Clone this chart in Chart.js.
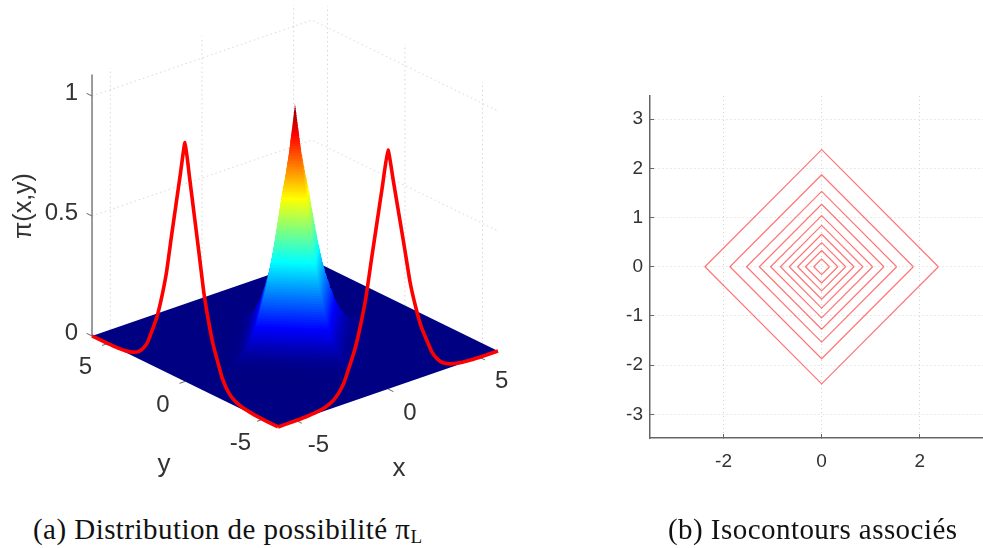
<!DOCTYPE html>
<html>
<head>
<meta charset="utf-8">
<style>
html, body { margin: 0; padding: 0; background: #fff; overflow: hidden; }
#page { position: relative; width: 983px; height: 548px; }
canvas { position: absolute; top: 0; }
#surface { left: 0; }
#contours { left: 560px; }
.caption { position: absolute; top: 511px; font-family: "Liberation Serif", serif; font-size: 29px; color: #111; white-space: nowrap; line-height: 36px; letter-spacing: 0.45px; }
.caption sub { font-size: 19px; line-height: 0; vertical-align: -4px; }
#captionA { left: 33px; }
#captionB { left: 668px; }
</style>
<script src="https://cdn.jsdelivr.net/npm/chart.js@4/dist/chart.umd.js"></script>
</head>
<body>
<div id="page">
  <canvas id="surface" width="540" height="500"></canvas>
  <canvas id="contours" width="423" height="548"></canvas>
  <div class="caption" id="captionA">(a) Distribution de possibilité π<sub>L</sub></div>
  <div class="caption" id="captionB">(b) Isocontours associés</div>
</div>
<script>
/* global Chart */

// heights of the surface, top to bottom, and the |x|+|y| where it has that height
const surfaceLevels = [
    1, 0.99, 0.98, 0.97, 0.96, 0.95, 0.94, 0.93, 0.92, 0.91,
    0.90, 0.89, 0.88, 0.87, 0.86, 0.85, 0.84, 0.83, 0.82, 0.81,
    0.80, 0.79, 0.78, 0.77, 0.76, 0.75, 0.74, 0.73, 0.72, 0.71,
    0.70, 0.69, 0.68, 0.67, 0.66, 0.65, 0.64, 0.63, 0.62, 0.61,
    0.60, 0.59, 0.58, 0.57, 0.56, 0.55, 0.54, 0.53, 0.52, 0.51,
    0.50, 0.49, 0.48, 0.47, 0.46, 0.45, 0.44, 0.43, 0.42, 0.41,
    0.40, 0.39, 0.38, 0.37, 0.36, 0.35, 0.34, 0.33, 0.32, 0.31,
    0.30, 0.29, 0.28, 0.27, 0.26, 0.25, 0.24, 0.23, 0.22, 0.21,
    0.20, 0.19, 0.18, 0.17, 0.16, 0.15, 0.14, 0.13, 0.12, 0.11,
    0.10, 0.09, 0.08, 0.07, 0.06, 0.05, 0.04, 0.03, 0.02, 0.01,
    0.004,
];
const surfaceRadii = [
    0, 0.016, 0.03, 0.05, 0.065, 0.08, 0.095, 0.11, 0.13, 0.145,
    0.16, 0.18, 0.195, 0.215, 0.23, 0.25, 0.265, 0.28, 0.30, 0.315,
    0.33, 0.35, 0.375, 0.395, 0.42, 0.44, 0.46, 0.485, 0.505, 0.53,
    0.55, 0.575, 0.60, 0.63, 0.655, 0.68, 0.705, 0.73, 0.755, 0.78,
    0.80, 0.82, 0.84, 0.86, 0.88, 0.90, 0.92, 0.945, 0.965, 0.99,
    1.01, 1.03, 1.055, 1.075, 1.10, 1.12, 1.145, 1.17, 1.19, 1.215,
    1.24, 1.265, 1.29, 1.32, 1.345, 1.37, 1.40, 1.43, 1.455, 1.48,
    1.51, 1.54, 1.57, 1.605, 1.64, 1.67, 1.71, 1.75, 1.79, 1.83,
    1.87, 1.91, 1.95, 2.0, 2.04, 2.08, 2.13, 2.18, 2.23, 2.285,
    2.34, 2.41, 2.49, 2.56, 2.64, 2.72, 2.85, 3.0, 3.22, 3.65,
    4.2,
];

// red profile on the front walls, from the peak outwards
const profileOffsets = [0, 0.3, 0.6, 0.9, 1.2, 1.5, 1.8, 2.1, 2.4, 2.7, 3.0, 3.4, 3.9, 4.5, 5.2, 6];
const profileHeights = [0.995, 0.855, 0.71, 0.565, 0.415, 0.305, 0.215, 0.15, 0.09, 0.053, 0.03, 0.015, 0.006, 0.002, 0.0005, 0];

const axisLimit = 6;
const axisTicks = [-5, 0, 5];
const heightTicks = [0, 0.5, 1];
const heightTop = 1.09;

const contourRadii = [2.38, 1.87, 1.53, 1.27, 1.04, 0.84, 0.66, 0.49, 0.33, 0.16];
const contourXTicks = [-2, 0, 2];
const contourYTicks = [-3, -2, -1, 0, 1, 2, 3];

// orthographic view of the 3d box, in px of the left canvas
const view = { cx: 295, cy: 343.5, xdx: 18.33, xdy: -6.33, ydx: -15.5, ydy: -7.58, zdy: -240 };

function project(x, y, z) {
    return {
        x: view.cx + x * view.xdx + y * view.ydx,
        y: view.cy + x * view.xdy + y * view.ydy + z * view.zdy,
    };
}

function jet(v) {
    const c = t => Math.round(255 * Math.max(0, Math.min(1, 1.5 - Math.abs(4 * v - t))));
    return `rgb(${c(3)},${c(2)},${c(1)})`;
}

function line(points, color, width, dash) {
    return {
        data: points,
        showLine: true,
        pointRadius: 0,
        borderColor: color,
        borderWidth: width,
        borderDash: dash || [],
        borderJoinStyle: 'round',
        clip: false,
    };
}

function filled(points, color) {
    return {
        data: points,
        showLine: true,
        pointRadius: 0,
        borderWidth: 0,
        backgroundColor: color,
        fill: 'shape',
        clip: false,
    };
}

// the band of the surface between a lower and an upper level, seen from the front
function band(lowZ, lowR, highZ, highR) {
    return [
        project(-lowR, 0, lowZ),
        project(0, -lowR, lowZ),
        project(lowR, 0, lowZ),
        project(highR, 0, highZ),
        project(0, highR, highZ),
        project(-highR, 0, highZ),
        project(-lowR, 0, lowZ),
    ];
}

const lim = axisLimit;
const gridColor = 'rgba(60,60,60,0.2)';
const gridDash = [1.5, 3];
const surfaceSets = [];

// back walls
heightTicks.slice(1).forEach(z => {
    surfaceSets.push(line([project(-lim, lim, z), project(lim, lim, z), project(lim, -lim, z)], gridColor, 1, gridDash));
});
axisTicks.forEach(t => {
    surfaceSets.push(line([project(t, lim, 0), project(t, lim, heightTop)], gridColor, 1, gridDash));
    surfaceSets.push(line([project(lim, t, 0), project(lim, t, heightTop)], gridColor, 1, gridDash));
});
surfaceSets.push(line([project(-lim, lim, 0), project(-lim, lim, heightTop)], '#7a7a7a', 1.5));

// ticks
heightTicks.forEach(z => {
    surfaceSets.push(line([project(-lim, lim, z), project(-lim, lim + 0.35, z)], '#666', 1));
});
axisTicks.forEach(t => {
    surfaceSets.push(line([project(t, -lim, 0), project(t, -lim - 0.35, 0)], '#666', 1));
    surfaceSets.push(line([project(-lim, t, 0), project(-lim - 0.3, t, 0)], '#666', 1));
});

// floor, then the bands from low to high so the higher ones cover the lower ones
surfaceSets.push(filled(
    [project(-lim, -lim, 0), project(lim, -lim, 0), project(lim, lim, 0), project(-lim, lim, 0), project(-lim, -lim, 0)],
    '#000083',
));
for (let i = surfaceLevels.length - 1; i > 0; i--) {
    const low = surfaceLevels[i];
    const high = surfaceLevels[i - 1];
    surfaceSets.push(filled(band(low, surfaceRadii[i], high, surfaceRadii[i - 1]), jet((low + high) / 2)));
}

// profiles on the two front walls
const offsets = profileOffsets.slice(1).reverse().map(r => -r).concat(profileOffsets);
const heights = profileHeights.slice(1).reverse().concat(profileHeights);
[
    offsets.map((t, i) => project(-lim, t, heights[i])),
    offsets.map((t, i) => project(t, -lim, heights[i])),
].forEach(points => {
    surfaceSets.push({ ...line(points, '#ff0000', 3.6), tension: 0.15 });
});

surfaceSets.forEach((d, i) => { d.order = -i; });

const textColor = '#333';
const boxLabels = {
    id: 'boxLabels',
    afterDraw(chart) {
        const { ctx, scales } = chart;
        const put = (text, p, dx, dy, align, size) => {
            ctx.font = `${size}px "Liberation Sans", Arial, sans-serif`;
            ctx.textAlign = align;
            ctx.textBaseline = 'middle';
            ctx.fillText(text, scales.x.getPixelForValue(p.x) + dx, scales.y.getPixelForValue(p.y) + dy);
        };
        ctx.save();
        ctx.fillStyle = textColor;
        heightTicks.forEach(z => put(String(z), project(-lim, lim, z), -14, -2.5, 'right', 24));
        axisTicks.forEach(t => put(String(t), project(-lim, t, 0), -22, 23.5, 'center', 24));
        axisTicks.forEach(t => put(String(t), project(t, -lim, 0), 22, 24.5, 'center', 24));
        put('y', project(-lim, 0, 0), -21, 83, 'center', 26);
        put('x', project(0, -lim, 0), 11, 80, 'center', 26);
        ctx.translate(24, 206);
        ctx.rotate(-Math.PI / 2);
        ctx.font = '25px "Liberation Sans", Arial, sans-serif';
        ctx.textAlign = 'center';
        ctx.textBaseline = 'middle';
        ctx.fillText('π(x,y)', 0, 0);
        ctx.restore();
    },
};

new Chart(document.getElementById('surface'), {
    type: 'scatter',
    data: { datasets: surfaceSets },
    options: {
        responsive: false,
        animation: false,
        events: [],
        plugins: { legend: { display: false }, tooltip: { enabled: false } },
        scales: {
            x: { type: 'linear', min: 0, max: 540, display: false },
            y: { type: 'linear', min: 0, max: 500, reverse: true, display: false },
        },
    },
    plugins: [boxLabels],
});

const axisFont = { family: '"Liberation Sans", Arial, sans-serif', size: 19 };
const contourGrid = {
    color: '#d4d4d4',
    lineWidth: 1,
    tickLength: -4,
    tickColor: '#666',
    tickBorderDash: [],
    tickWidth: 1,
};
const contourBorder = { color: '#666', width: 1.5, dash: [1, 3] };

new Chart(document.getElementById('contours'), {
    type: 'scatter',
    data: {
        datasets: contourRadii.map(r => line(
            [{ x: r, y: 0 }, { x: 0, y: r }, { x: -r, y: 0 }, { x: 0, y: -r }, { x: r, y: 0 }],
            'rgba(255,30,30,0.62)', 1.15,
        )),
    },
    options: {
        responsive: false,
        animation: false,
        events: [],
        layout: { padding: { top: 96, right: 0, bottom: 0, left: 0 } },
        plugins: { legend: { display: false }, tooltip: { enabled: false } },
        scales: {
            x: {
                type: 'linear',
                min: -3.5,
                max: 3.29,
                grid: contourGrid,
                border: contourBorder,
                ticks: { color: textColor, font: axisFont, padding: 16, maxRotation: 0, autoSkip: false, callback: v => String(v) },
                afterBuildTicks: s => { s.ticks = contourXTicks.map(value => ({ value })); },
                afterFit: s => { s.height = 110; },
            },
            y: {
                type: 'linear',
                min: -3.48,
                max: 3.47,
                grid: contourGrid,
                border: contourBorder,
                ticks: { color: textColor, font: axisFont, padding: 11, autoSkip: false, callback: v => String(v) },
                afterBuildTicks: s => { s.ticks = contourYTicks.map(value => ({ value })); },
                afterFit: s => { s.width = 90; },
            },
        },
    },
});
</script>
</body>
</html>
